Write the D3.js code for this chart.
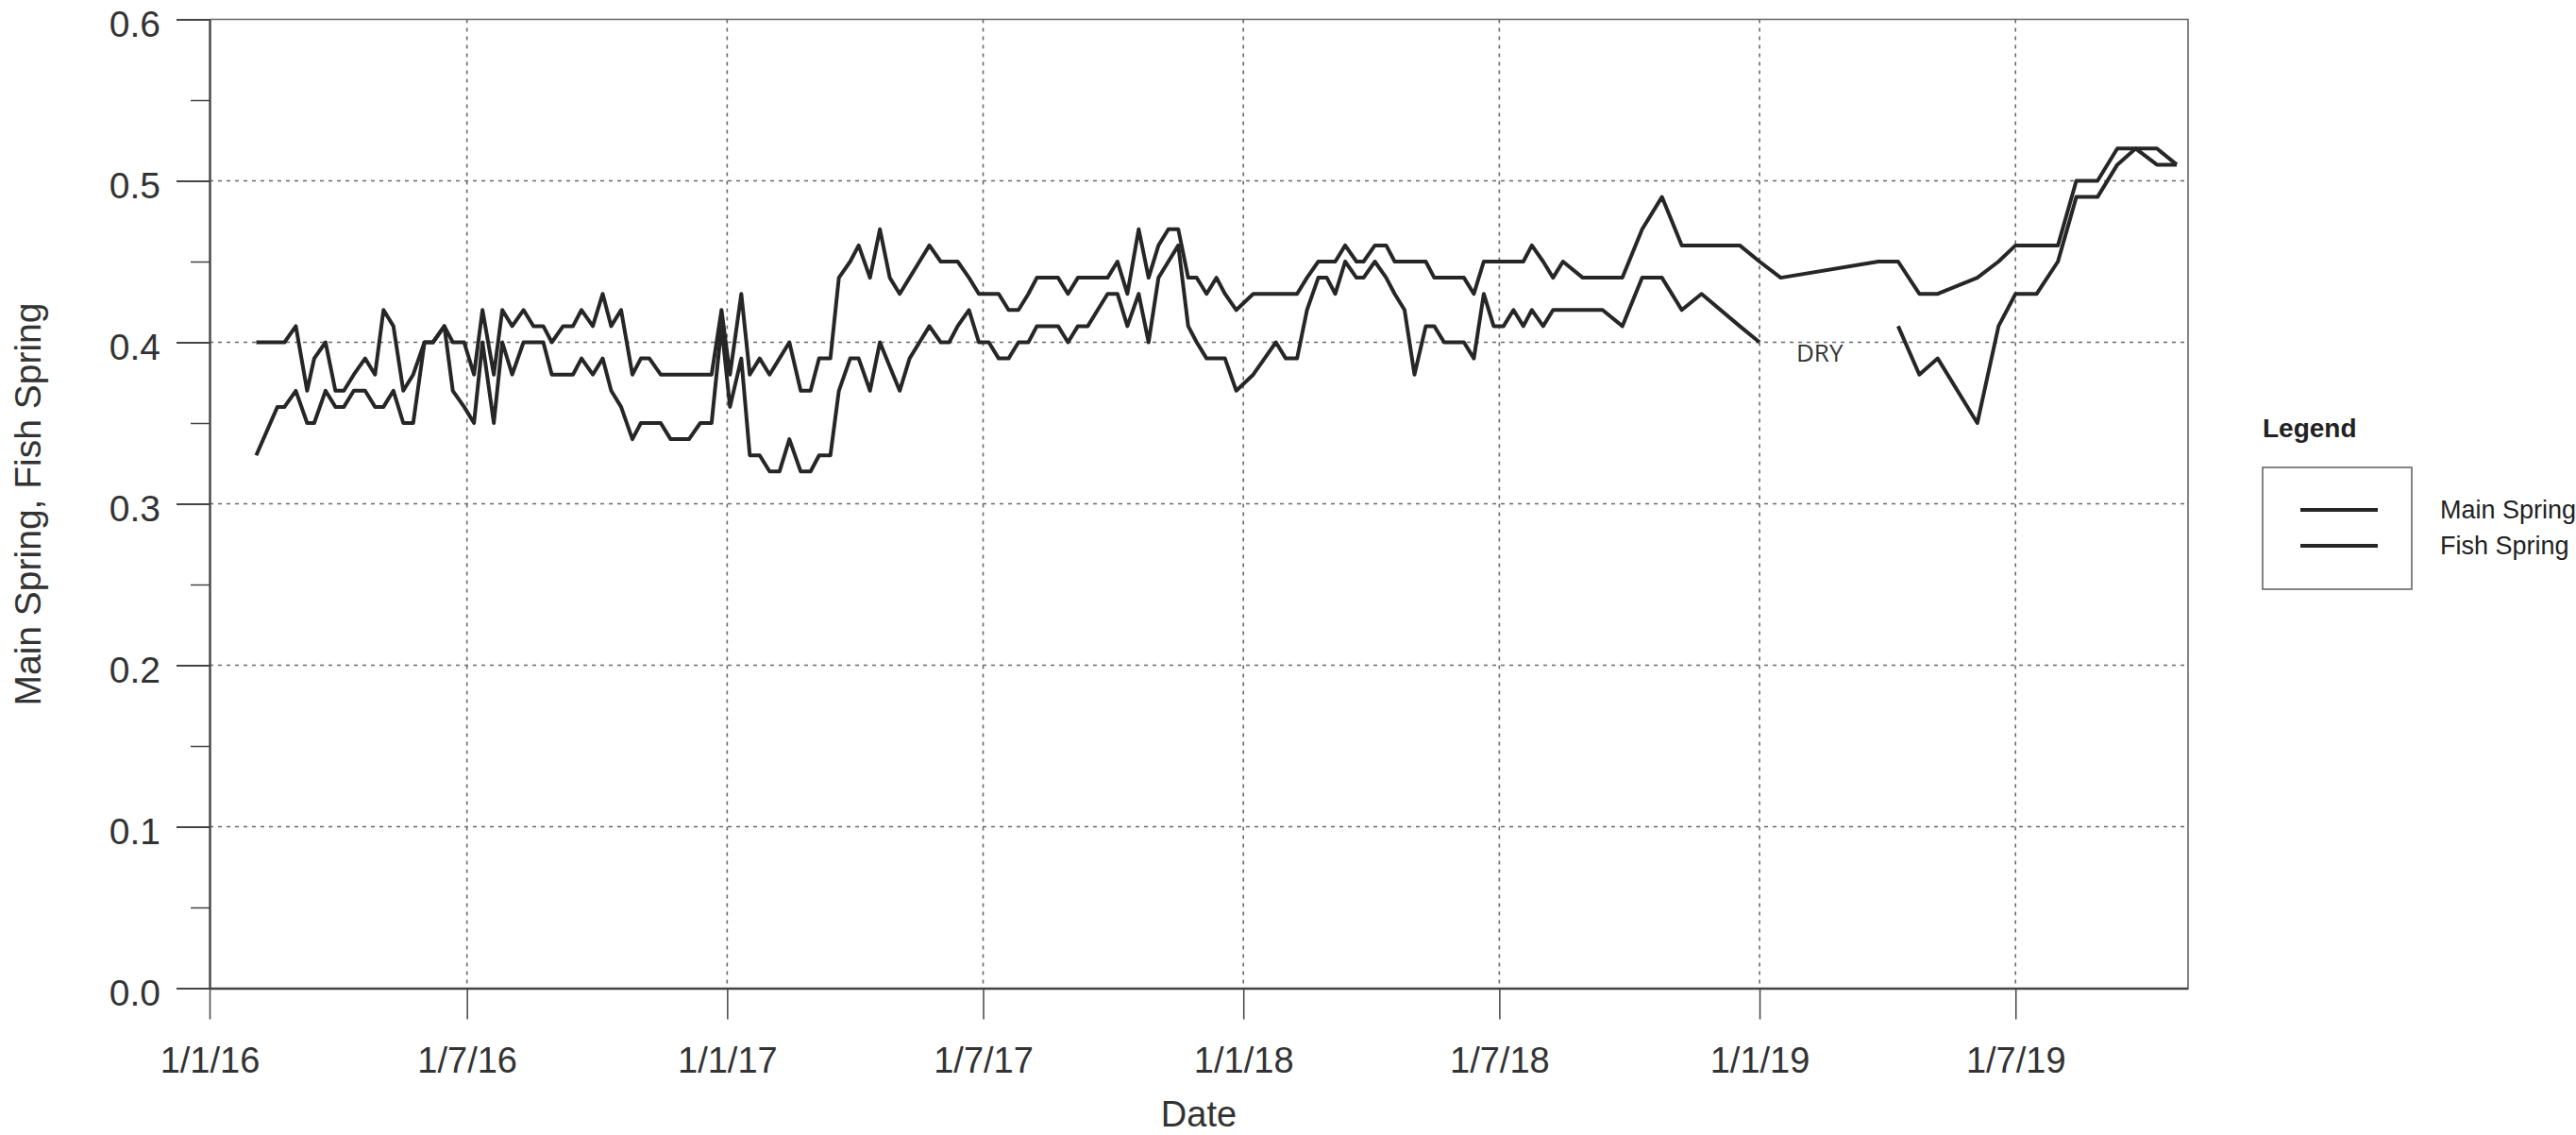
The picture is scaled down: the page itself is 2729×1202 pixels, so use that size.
<!DOCTYPE html>
<html>
<head>
<meta charset="utf-8">
<script src="https://cdn.jsdelivr.net/npm/d3@7"></script>
<style>
    html, body { margin: 0; padding: 0; background: #fff; }
    svg { display: block; }
    text { font-family: "Liberation Sans", Arial, sans-serif; }
</style>
</head>
<body>
<svg id="chart" width="2729" height="1202"></svg>
<script>
// Sample dates shared by both springs
const sampleDates = [
    '2016-02-03', '2016-02-18', '2016-02-23', '2016-03-02', '2016-03-10', '2016-03-15', '2016-03-23', '2016-03-30',
    '2016-04-05', '2016-04-12', '2016-04-20', '2016-04-27', '2016-05-03', '2016-05-10', '2016-05-17', '2016-05-24',
    '2016-06-01', '2016-06-07', '2016-06-15', '2016-06-21', '2016-06-29', '2016-07-06', '2016-07-12', '2016-07-20',
    '2016-07-26', '2016-08-02', '2016-08-10', '2016-08-17', '2016-08-24', '2016-08-30', '2016-09-07', '2016-09-14',
    '2016-09-20', '2016-09-28', '2016-10-05', '2016-10-11', '2016-10-18', '2016-10-26', '2016-11-01', '2016-11-07',
    '2016-11-15', '2016-11-22', '2016-12-05', '2016-12-13', '2016-12-21', '2016-12-28', '2017-01-03', '2017-01-11',
    '2017-01-17', '2017-01-24', '2017-01-31', '2017-02-07', '2017-02-14', '2017-02-22', '2017-03-01', '2017-03-07',
    '2017-03-15', '2017-03-21', '2017-03-29', '2017-04-04', '2017-04-12', '2017-04-19', '2017-04-26', '2017-05-03',
    '2017-05-10', '2017-05-17', '2017-05-24', '2017-06-01', '2017-06-07', '2017-06-13', '2017-06-21', '2017-06-28',
    '2017-07-05', '2017-07-12', '2017-07-19', '2017-07-26', '2017-08-02', '2017-08-08', '2017-08-16', '2017-08-23',
    '2017-08-30', '2017-09-06', '2017-09-13', '2017-09-20', '2017-09-27', '2017-10-04', '2017-10-11', '2017-10-19',
    '2017-10-26', '2017-11-02', '2017-11-09', '2017-11-16', '2017-11-23', '2017-11-29', '2017-12-06', '2017-12-13',
    '2017-12-19', '2017-12-27', '2018-01-08', '2018-01-16', '2018-01-24', '2018-01-31', '2018-02-08', '2018-02-15',
    '2018-02-23', '2018-03-01', '2018-03-07', '2018-03-14', '2018-03-22', '2018-03-27', '2018-04-04', '2018-04-12',
    '2018-04-18', '2018-04-25', '2018-05-02', '2018-05-10', '2018-05-16', '2018-05-23', '2018-05-30', '2018-06-06',
    '2018-06-13', '2018-06-20', '2018-06-27', '2018-07-04', '2018-07-11', '2018-07-18', '2018-07-24', '2018-08-01',
    '2018-08-08', '2018-08-15', '2018-08-29', '2018-09-12', '2018-09-26', '2018-10-10', '2018-10-24', '2018-11-07',
    '2018-11-21', '2018-12-18', '2019-01-01', '2019-01-16', '2019-03-26', '2019-04-09', '2019-04-24', '2019-05-07',
    '2019-06-04', '2019-06-19', '2019-07-01', '2019-07-16', '2019-07-31', '2019-08-13', '2019-08-28', '2019-09-11',
    '2019-09-24', '2019-10-09', '2019-10-23'
];

const mainSpring = [
    0.40, 0.40, 0.40, 0.41, 0.37, 0.39, 0.40, 0.37,
    0.37, 0.38, 0.39, 0.38, 0.42, 0.41, 0.37, 0.38,
    0.40, 0.40, 0.41, 0.40, 0.40, 0.38, 0.42, 0.38,
    0.42, 0.41, 0.42, 0.41, 0.41, 0.40, 0.41, 0.41,
    0.42, 0.41, 0.43, 0.41, 0.42, 0.38, 0.39, 0.39,
    0.38, 0.38, 0.38, 0.38, 0.38, 0.42, 0.38, 0.43,
    0.38, 0.39, 0.38, 0.39, 0.40, 0.37, 0.37, 0.39,
    0.39, 0.44, 0.45, 0.46, 0.44, 0.47, 0.44, 0.43,
    0.44, 0.45, 0.46, 0.45, 0.45, 0.45, 0.44, 0.43,
    0.43, 0.43, 0.42, 0.42, 0.43, 0.44, 0.44, 0.44,
    0.43, 0.44, 0.44, 0.44, 0.44, 0.45, 0.43, 0.47,
    0.44, 0.46, 0.47, 0.47, 0.44, 0.44, 0.43, 0.44,
    0.43, 0.42, 0.43, 0.43, 0.43, 0.43, 0.43, 0.44,
    0.45, 0.45, 0.45, 0.46, 0.45, 0.45, 0.46, 0.46,
    0.45, 0.45, 0.45, 0.45, 0.44, 0.44, 0.44, 0.44,
    0.43, 0.45, 0.45, 0.45, 0.45, 0.45, 0.46, 0.45,
    0.44, 0.45, 0.44, 0.44, 0.44, 0.47, 0.49, 0.46,
    0.46, 0.46, 0.45, 0.44, 0.45, 0.45, 0.43, 0.43,
    0.44, 0.45, 0.46, 0.46, 0.46, 0.50, 0.50, 0.52,
    0.52, 0.52, 0.51
];

// null = no reading (spring dry)
const fishSpring = [
    0.33, 0.36, 0.36, 0.37, 0.35, 0.35, 0.37, 0.36,
    0.36, 0.37, 0.37, 0.36, 0.36, 0.37, 0.35, 0.35,
    0.40, 0.40, 0.41, 0.37, 0.36, 0.35, 0.40, 0.35,
    0.40, 0.38, 0.40, 0.40, 0.40, 0.38, 0.38, 0.38,
    0.39, 0.38, 0.39, 0.37, 0.36, 0.34, 0.35, 0.35,
    0.35, 0.34, 0.34, 0.35, 0.35, 0.41, 0.36, 0.39,
    0.33, 0.33, 0.32, 0.32, 0.34, 0.32, 0.32, 0.33,
    0.33, 0.37, 0.39, 0.39, 0.37, 0.40, 0.385, 0.37,
    0.39, 0.40, 0.41, 0.40, 0.40, 0.41, 0.42, 0.40,
    0.40, 0.39, 0.39, 0.40, 0.40, 0.41, 0.41, 0.41,
    0.40, 0.41, 0.41, 0.42, 0.43, 0.43, 0.41, 0.43,
    0.40, 0.44, 0.45, 0.46, 0.41, 0.40, 0.39, 0.39,
    0.39, 0.37, 0.38, 0.39, 0.40, 0.39, 0.39, 0.42,
    0.44, 0.44, 0.43, 0.45, 0.44, 0.44, 0.45, 0.44,
    0.43, 0.42, 0.38, 0.41, 0.41, 0.40, 0.40, 0.40,
    0.39, 0.43, 0.41, 0.41, 0.42, 0.41, 0.42, 0.41,
    0.42, 0.42, 0.42, 0.42, 0.41, 0.44, 0.44, 0.42,
    0.43, 0.41, 0.40, null, null, 0.41, 0.38, 0.39,
    0.35, 0.41, 0.43, 0.43, 0.45, 0.49, 0.49, 0.51,
    0.52, 0.51, 0.51
];

const seriesNames = ['Main Spring', 'Fish Spring'];
const yTicks = [0, 0.1, 0.2, 0.3, 0.4, 0.5, 0.6];
const yMinorTicks = [0.05, 0.15, 0.25, 0.35, 0.45, 0.55];
const xTicks = ['2016-01-01', '2016-07-01', '2017-01-01', '2017-07-01', '2018-01-01', '2018-07-01', '2019-01-01', '2019-07-01'];
const xDomain = ['2016-01-01', '2019-10-31'];
const dryLabel = 'DRY';
const dryDate = '2019-01-27';
const dryValue = 0.388;

const plot = { left: 222, right: 2318, top: 20.5, bottom: 1046.5 };
const lineColor = '#262626';
const gridColor = '#6a6a6a';
const axisColor = '#444';

const parse = d3.timeParse('%Y-%m-%d');

const x = d3.scaleTime()
    .domain(xDomain.map(parse))
    .range([plot.left, plot.right]);

const y = d3.scaleLinear()
    .domain([0, 0.6])
    .range([plot.bottom, plot.top]);

const svg = d3.select('#chart');

// dotted grid
svg.append('g')
    .selectAll('line')
    .data(yTicks.filter(v => v > 0 && v < 0.6))
    .enter()
    .append('line')
    .attr('x1', plot.left)
    .attr('x2', plot.right)
    .attr('y1', d => y(d))
    .attr('y2', d => y(d))
    .attr('stroke', gridColor)
    .attr('stroke-width', 1.6)
    .attr('stroke-dasharray', '4,5');

svg.append('g')
    .selectAll('line')
    .data(xTicks.slice(1).map(parse))
    .enter()
    .append('line')
    .attr('x1', d => x(d))
    .attr('x2', d => x(d))
    .attr('y1', plot.top)
    .attr('y2', plot.bottom)
    .attr('stroke', gridColor)
    .attr('stroke-width', 1.6)
    .attr('stroke-dasharray', '4,5');

// frame: top and right border
svg.append('path')
    .attr('d', `M${plot.left},${plot.top}H${plot.right}V${plot.bottom}`)
    .attr('fill', 'none')
    .attr('stroke', '#666')
    .attr('stroke-width', 1.6);

// x axis
const xAxis = svg.append('g')
    .attr('transform', `translate(0,${plot.bottom})`)
    .call(d3.axisBottom(x)
        .tickValues(xTicks.map(parse))
        .tickFormat(d3.timeFormat('%-d/%-m/%y'))
        .tickSize(33)
        .tickSizeOuter(0)
        .tickPadding(30));

xAxis.select('.domain').attr('stroke', axisColor).attr('stroke-width', 2.4);
xAxis.selectAll('.tick line').attr('stroke', axisColor).attr('stroke-width', 1.5);
xAxis.selectAll('.tick text')
    .attr('font-size', 38)
    .attr('fill', '#333')
    .style('font-family', '"Liberation Sans", Arial, sans-serif');

// y axis (major + minor ticks)
const yAxis = svg.append('g')
    .attr('transform', `translate(${plot.left},0)`)
    .call(d3.axisLeft(y)
        .tickValues(yTicks)
        .tickFormat(d3.format('.1f'))
        .tickSize(35)
        .tickSizeOuter(0)
        .tickPadding(17));

yAxis.select('.domain').attr('stroke', axisColor).attr('stroke-width', 2.4);
yAxis.selectAll('.tick line').attr('stroke', axisColor).attr('stroke-width', 2);
yAxis.selectAll('.tick text')
    .attr('font-size', 39)
    .attr('dy', '0.45em')
    .attr('fill', '#333')
    .style('font-family', '"Liberation Sans", Arial, sans-serif');

const yMinor = svg.append('g')
    .attr('transform', `translate(${plot.left},0)`)
    .call(d3.axisLeft(y)
        .tickValues(yMinorTicks)
        .tickFormat('')
        .tickSize(20)
        .tickSizeOuter(0));
yMinor.select('.domain').remove();
yMinor.selectAll('.tick line').attr('stroke', axisColor).attr('stroke-width', 1.5);

// axis titles
svg.append('text')
    .attr('x', 1270)
    .attr('y', 1193)
    .attr('text-anchor', 'middle')
    .attr('font-size', 38)
    .attr('fill', '#333')
    .text('Date');

svg.append('text')
    .attr('transform', 'translate(43,534) rotate(-90)')
    .attr('text-anchor', 'middle')
    .attr('font-size', 39)
    .attr('fill', '#333')
    .text(seriesNames.join(', '));

// series lines
const series = [mainSpring, fishSpring].map(values =>
    sampleDates.map((d, i) => ({ date: parse(d), value: values[i] })));

const line = d3.line()
    .defined(d => d.value != null)
    .x(d => x(d.date))
    .y(d => y(d.value));

svg.append('g')
    .selectAll('path')
    .data(series)
    .enter()
    .append('path')
    .attr('d', line)
    .attr('fill', 'none')
    .attr('stroke', lineColor)
    .attr('stroke-width', 4)
    .attr('stroke-linejoin', 'round');

// dry note
svg.append('text')
    .attr('x', x(parse(dryDate)))
    .attr('y', y(dryValue))
    .attr('font-size', 26)
    .attr('fill', '#333')
    .style('font-family', '"Open Sans", "Noto Sans", sans-serif')
    .text(dryLabel);

// legend
const legend = svg.append('g');

legend.append('text')
    .attr('x', 2397)
    .attr('y', 463)
    .attr('font-size', 28)
    .attr('font-weight', 'bold')
    .attr('fill', '#222')
    .text('Legend');

legend.append('rect')
    .attr('x', 2397)
    .attr('y', 495)
    .attr('width', 158)
    .attr('height', 129)
    .attr('fill', 'none')
    .attr('stroke', '#666')
    .attr('stroke-width', 1.6);

const items = legend.selectAll('.item')
    .data(seriesNames)
    .enter()
    .append('g')
    .attr('class', 'item')
    .attr('transform', (d, i) => `translate(0,${540 + i * 38})`);

items.append('line')
    .attr('x1', 2437)
    .attr('x2', 2519)
    .attr('stroke', lineColor)
    .attr('stroke-width', 4);

items.append('text')
    .attr('x', 2585)
    .attr('y', 9)
    .attr('font-size', 27)
    .attr('fill', '#222')
    .text(d => d);
</script>
</body>
</html>
